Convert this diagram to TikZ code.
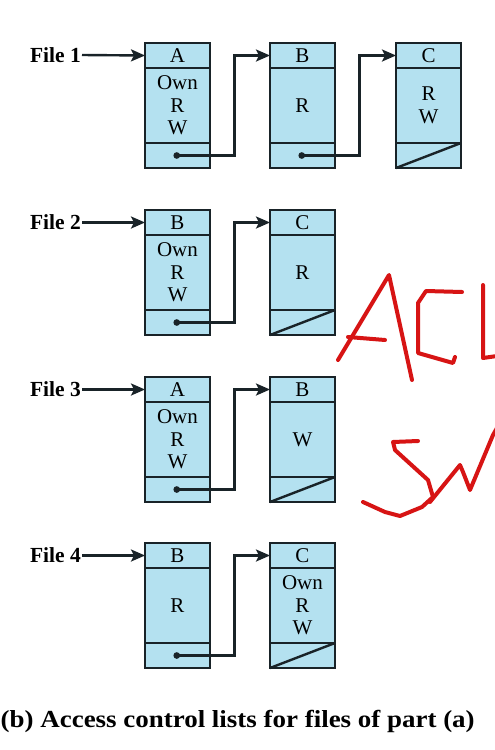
\documentclass[tikz,border=0pt]{standalone}
\usepackage{fontspec}
\setmainfont{Liberation Serif}
\usetikzlibrary{positioning, arrows.meta}

\definecolor{aclblue}{RGB}{180,225,240}
\definecolor{boxline}{RGB}{25,35,40}
\definecolor{inkred}{RGB}{215,20,20}

\begin{document}
\begin{tikzpicture}[x=1pt, y=-1pt,
    hdr/.style={draw=boxline, fill=aclblue, line width=2.4pt, minimum width=65pt,
        minimum height=25pt, inner sep=0pt, outer sep=0pt,
        font=\fontsize{21}{22.5}\selectfont},
    body/.style={hdr, minimum height=75pt, align=center},
    foot/.style={hdr},
    ptr/.style={draw=boxline, line width=2.4pt,
        {Circle[length=6.5pt]}-{Stealth[length=14pt, width=12pt, inset=3pt]}},
    flabel/.style={anchor=east, inner sep=1pt, font=\bfseries\fontsize{21.5}{24}\selectfont},
    slash/.style={draw=boxline, line width=2.4pt},
    handw/.style={draw=inkred, line width=4pt, line cap=round, line join=round}]

    \useasboundingbox[fill=white] (0,0) rectangle (495,750);

    % File 1
    \node[flabel] (f1) at (82,55) {File 1};
    \node[hdr] (a1) at (177.5,55.5) {A};
    \node[body, below=0pt of a1] (a1b) {Own\\R\\W};
    \node[foot, below=0pt of a1b] (a1p) {};
    \node[hdr] (b1) at (302.5,55.5) {B};
    \node[body, below=0pt of b1] (b1b) {R};
    \node[foot, below=0pt of b1b] (b1p) {};
    \node[hdr] (c1) at (428.5,55.5) {C};
    \node[body, below=0pt of c1] (c1b) {R\\W};
    \node[foot, below=0pt of c1b] (c1p) {};

    % File 2
    \node[flabel] (f2) at (82,222.5) {File 2};
    \node[hdr] (a2) at (177.5,222.5) {B};
    \node[body, below=0pt of a2] (a2b) {Own\\R\\W};
    \node[foot, below=0pt of a2b] (a2p) {};
    \node[hdr] (b2) at (302.5,222.5) {C};
    \node[body, below=0pt of b2] (b2b) {R};
    \node[foot, below=0pt of b2b] (b2p) {};

    % File 3
    \node[flabel] (f3) at (82,389.5) {File 3};
    \node[hdr] (a3) at (177.5,389.5) {A};
    \node[body, below=0pt of a3] (a3b) {Own\\R\\W};
    \node[foot, below=0pt of a3b] (a3p) {};
    \node[hdr] (b3) at (302.5,389.5) {B};
    \node[body, below=0pt of b3] (b3b) {W};
    \node[foot, below=0pt of b3b] (b3p) {};

    % File 4
    \node[flabel] (f4) at (82,555.5) {File 4};
    \node[hdr] (a4) at (177.5,555.5) {B};
    \node[body, below=0pt of a4] (a4b) {R};
    \node[foot, below=0pt of a4b] (a4p) {};
    \node[hdr] (b4) at (302.5,555.5) {C};
    \node[body, below=0pt of b4] (b4b) {Own\\R\\W};
    \node[foot, below=0pt of b4b] (b4p) {};

    % Arrows from the file names
    \foreach \i in {1,...,4}
        \draw[draw=boxline, line width=2.4pt, -{Stealth[length=14pt, width=12pt, inset=3pt]}]
            (f\i.east) -- (a\i.west);

    % Pointers
    \draw[ptr] ([xshift=-4pt]a1p.center) -- ++(61,0) |- (b1.west);
    \draw[ptr] ([xshift=-4pt]b1p.center) -- ++(61,0) |- (c1.west);
    \draw[ptr] ([xshift=-4pt]a2p.center) -- ++(61,0) |- (b2.west);
    \draw[ptr] ([xshift=-4pt]a3p.center) -- ++(61,0) |- (b3.west);
    \draw[ptr] ([xshift=-4pt]a4p.center) -- ++(61,0) |- (b4.west);

    % End of list
    \draw[slash] (c1p.south west) -- (c1p.north east);
    \draw[slash] (b2p.south west) -- (b2p.north east);
    \draw[slash] (b3p.south west) -- (b3p.north east);
    \draw[slash] (b4p.south west) -- (b4p.north east);

    % Caption
    \node[anchor=base west, inner sep=0pt, font=\bfseries\fontsize{24.5}{28}\selectfont] (cap)
        at (0.5,727) {\scalebox{1.1}[1]{(b) Access control lists for files of part (a)}};

    % Handwritten ACL
    \draw[handw] (338,360) -- (389,275) -- (412,380);
    \draw[handw] (348,337) -- (385,340);
    \draw[handw] (462,292) -- (426,291) -- (418,303) -- (418,353) -- (453,363) -- (455,357);
    \draw[handw] (483,285) -- (483,358) -- (497,356);

    % Handwritten SW
    \draw[handw] (418,441) -- (393,442) -- (395,450) -- (428,480) -- (433,497) -- (422,507)
        -- (400,516) -- (385,512) -- (363,502);
    \draw[handw] (430,502) -- (460,465) -- (463,472) -- (470,490) -- (493,435) -- (497,428);

\end{tikzpicture}
\end{document}
